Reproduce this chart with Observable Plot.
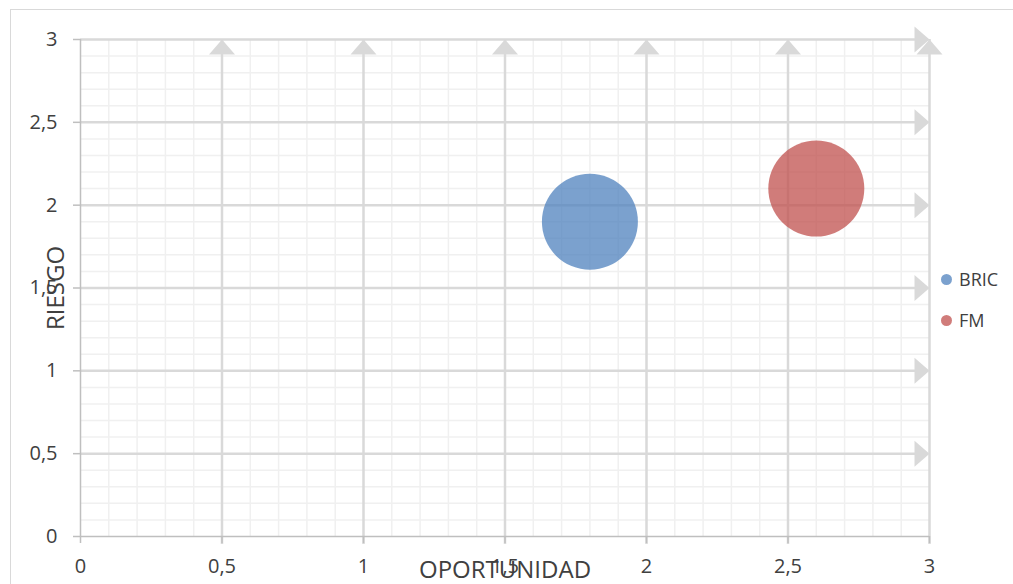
<!DOCTYPE html>
<html>
<head>
<meta charset="utf-8">
<script src="https://cdn.jsdelivr.net/npm/d3@7"></script>
<script src="https://cdn.jsdelivr.net/npm/@observablehq/plot@0.6"></script>
<style>
  html, body { margin: 0; padding: 0; background: #fff; }
  #wrap { position: relative; width: 1013px; height: 584px; overflow: hidden; font-family: "Open Sans", sans-serif; }
  #border { position: absolute; left: 10px; top: 9px; width: 1100px; height: 700px; border: 1.5px solid #d9d9d9; box-sizing: border-box; }
  #chart { position: absolute; left: 0; top: 0; }
  .legend { position: absolute; left: 941px; font-size: 18px; color: #404040; display: flex; align-items: center; }
  .legend span.sw { display: inline-block; width: 11px; height: 11px; border-radius: 50%; margin-right: 7px; }
</style>
</head>
<body>
<div id="wrap">
  <div id="border"></div>
  <div id="chart"></div>
</div>
<script>
// ---- data ----
const series = ["BRIC", "FM"];
const oportunidad = [1.8, 2.6];
const riesgo = [1.9, 2.1];
const tamano = [1, 1];
const colors = ["#4F81BD", "#C0504D"];
const xTicks = [0, 0.5, 1, 1.5, 2, 2.5, 3];
const yTicks = [0, 0.5, 1, 1.5, 2, 2.5, 3];
const xTitle = "OPORTUNIDAD";
const yTitle = "RIESGO";

const data = series.map((s, i) => ({ serie: s, x: oportunidad[i], y: riesgo[i], size: tamano[i] }));
const minorX = d3.range(1, 30).map(i => i / 10).filter(v => Math.round(v * 10) % 5 !== 0);
const minorY = minorX.slice();
const xMax = d3.max(xTicks), yMax = d3.max(yTicks);
const fmt = d => String(d).replace(".", ",");

// filled arrow head: tip at origin, pointing up
const arrowHead = {
  draw(context) {
    context.moveTo(0, 0);
    context.lineTo(13, 15);
    context.lineTo(-13, 15);
    context.closePath();
  }
};

const majorX = xTicks.filter(d => d > 0);
const majorY = yTicks.filter(d => d > 0);

const chart = Plot.plot({
  width: 1013,
  height: 584,
  marginLeft: 80,
  marginRight: 84,
  marginTop: 39,
  marginBottom: 48,
  style: { fontFamily: "Open Sans, sans-serif", background: "transparent", overflow: "visible" },
  x: { domain: [0, xMax], axis: null, label: null },
  y: { domain: [0, yMax], axis: null, label: null },
  r: { domain: [0, 1], range: [0, 48] },
  marks: [
    Plot.ruleX(minorX, { stroke: "#f0f0f0", strokeWidth: 1.5 }),
    Plot.ruleY(minorY, { stroke: "#f0f0f0", strokeWidth: 1.5 }),
    Plot.ruleX(majorX, { y1: 0, y2: yMax, insetTop: 8, stroke: "#d9d9d9", strokeWidth: 2.5 }),
    Plot.ruleY(majorY, { x1: 0, x2: xMax, insetRight: 8, stroke: "#d9d9d9", strokeWidth: 2.5 }),
    Plot.dot(majorX, { x: d => d, y: () => yMax, symbol: arrowHead, fill: "#d9d9d9", stroke: "none", r: 5 }),
    Plot.dot(majorY, { x: () => xMax, y: d => d, symbol: arrowHead, rotate: 90, fill: "#d9d9d9", stroke: "none", r: 5 }),
    Plot.ruleX([0], { stroke: "#bfbfbf", strokeWidth: 1.5 }),
    Plot.ruleY([0], { stroke: "#bfbfbf", strokeWidth: 1.5 }),
    Plot.axisY({ ticks: yTicks, tickSize: 7, tickFormat: () => "", color: "#bfbfbf", strokeWidth: 1.5, label: null }),
    Plot.axisX({ ticks: xTicks, tickSize: 7, tickFormat: () => "", color: "#bfbfbf", strokeWidth: 1.5, label: null }),
    Plot.text(yTicks, { y: d => d, frameAnchor: "left", dx: -23, text: fmt, textAnchor: "end", lineAnchor: "middle", fontSize: 20, fill: "#404040" }),
    Plot.text(xTicks, { x: d => d, frameAnchor: "bottom", dy: 30, text: fmt, textAnchor: "middle", lineAnchor: "middle", fontSize: 20, fill: "#404040" }),
    Plot.dot(data, { x: "x", y: "y", r: "size", fill: (d, i) => colors[i], fillOpacity: 0.75, stroke: "none" }),
    Plot.text([yTitle], { frameAnchor: "left", rotate: -90, dx: -24, text: d => d, fontSize: 24, fill: "#404040", textAnchor: "middle", lineAnchor: "middle" }),
    Plot.text([xTitle], { frameAnchor: "bottom", dy: 34, text: d => d, fontSize: 24, fill: "#404040", textAnchor: "middle", lineAnchor: "middle" })
  ]
});
document.getElementById("chart").appendChild(chart);

// legend
const wrap = document.getElementById("wrap");
const legendTop = [279, 320];
series.forEach((s, i) => {
  const el = document.createElement("div");
  el.className = "legend";
  el.style.top = (legendTop[i] - 13) + "px";
  el.style.height = "26px";
  el.innerHTML = `<span class="sw" style="background:${colors[i]};opacity:0.75"></span>${s}`;
  wrap.appendChild(el);
});
</script>
</body>
</html>
